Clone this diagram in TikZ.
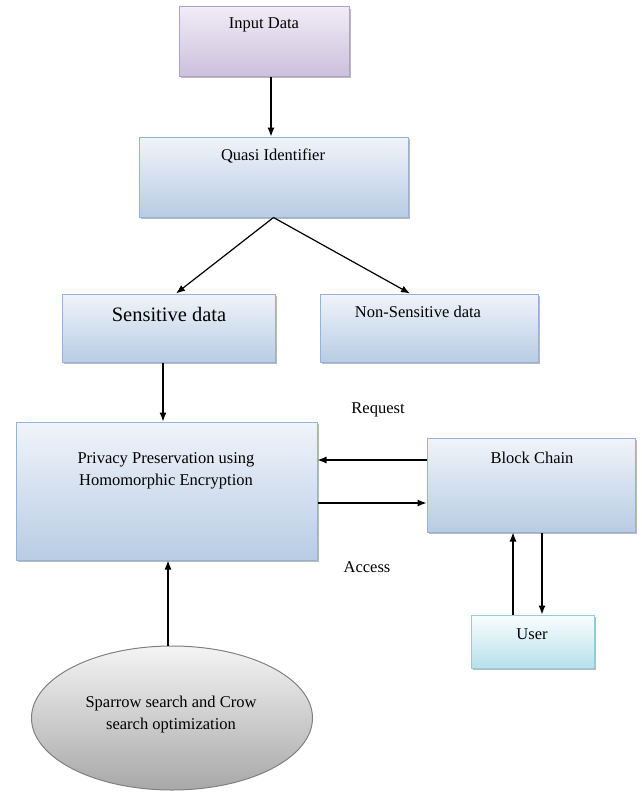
\documentclass[tikz,border=0pt]{standalone}
\usepackage{fontspec}
\setmainfont{Liberation Serif}
\usetikzlibrary{arrows.meta,shadows,shapes.geometric}
\definecolor{bTop}{RGB}{240,244,250}
\definecolor{bBot}{RGB}{184,204,228}
\definecolor{bEdge}{RGB}{149,179,215}
\definecolor{pTop}{RGB}{240,236,246}
\definecolor{pBot}{RGB}{204,192,220}
\definecolor{pEdge}{RGB}{178,161,199}
\definecolor{cTop}{RGB}{250,253,254}
\definecolor{cBot}{RGB}{183,224,234}
\definecolor{cEdge}{RGB}{147,205,221}
\definecolor{gTop}{RGB}{244,244,244}
\definecolor{gBot}{RGB}{168,168,168}
\definecolor{gEdge}{RGB}{128,128,128}
\tikzset{
  box/.style={rectangle, draw=bEdge, line width=1pt, top color=bTop, bottom color=bBot,
    drop shadow={shadow xshift=2pt, shadow yshift=-2pt, fill=black!45, opacity=0.6}, inner sep=0pt},
  pbox/.style={box, draw=pEdge, top color=pTop, bottom color=pBot},
  cbox/.style={box, draw=cEdge, top color=cTop, bottom color=cBot},
  txt/.style={font=\fontsize{16.5}{22}\selectfont, align=center, inner sep=0pt},
  bigtxt/.style={font=\fontsize{20.5}{24}\selectfont, align=center, inner sep=0pt},
  arr/.style={line width=1.2pt, -{Latex[length=9pt,width=7pt]}}
}
\begin{document}
\begin{tikzpicture}[x=1pt,y=-1pt]
\useasboundingbox (0,0) rectangle (642,792);
% boxes
\node[pbox, minimum width=170pt, minimum height=69pt] (in) at (264,41.5) {};
\node[box, minimum width=269pt, minimum height=80pt] (qi) at (273.5,177) {};
\node[box, minimum width=213pt, minimum height=68pt] (sd) at (168.5,328) {};
\node[box, minimum width=218pt, minimum height=68pt] (ns) at (429,328) {};
\node[box, minimum width=301pt, minimum height=138pt] (pp) at (166.5,491) {};
\node[box, minimum width=208pt, minimum height=94pt] (bc) at (531,485) {};
\node[cbox, minimum width=123pt, minimum height=53pt] (us) at (532.5,641.5) {};
\node[ellipse, draw=gEdge, line width=1pt, top color=gTop, bottom color=gBot,
      minimum width=281pt, minimum height=144pt, inner sep=0pt] (so) at (172,718) {};
% texts
\node[txt] (tin) at (264,25) {Input Data};
\node[txt] (tqi) at (273,156) {Quasi Identifier};
\node[bigtxt] (tsd) at (169,314) {Sensitive data};
\node[txt] (tns) at (418,312) {Non-Sensitive data};
\node[txt] (tpp) at (166,471) {Privacy Preservation using\\Homomorphic Encryption};
\node[txt] (tbc) at (532,458) {Block Chain};
\node[txt] (tus) at (532,634) {User};
\node[txt] (tso) at (171,715) {Sparrow search and Crow\\search optimization};
\node[txt] (treq) at (378,410) {Request};
\node[txt] (tacc) at (367,567) {Access};
% connectors
\draw[arr] (271,0 |- in.south) -- (271,0 |- qi.north);
\draw[arr] (qi.south) -- (176,0 |- sd.north);
\draw[arr] (qi.south) -- (410,0 |- ns.north);
\draw[arr] (163,0 |- sd.south) -- (163,0 |- pp.north);
\draw[arr] (bc.west |- 0,460) -- (pp.east |- 0,460);
\draw[arr] (pp.east |- 0,503) -- (bc.west |- 0,503);
\draw[arr] (513,0 |- us.north) -- (513,0 |- bc.south);
\draw[arr] (542,0 |- bc.south) -- (542,0 |- us.north);
\draw[arr] (168,0 |- so.north) -- (168,0 |- pp.south);
\end{tikzpicture}
\end{document}
